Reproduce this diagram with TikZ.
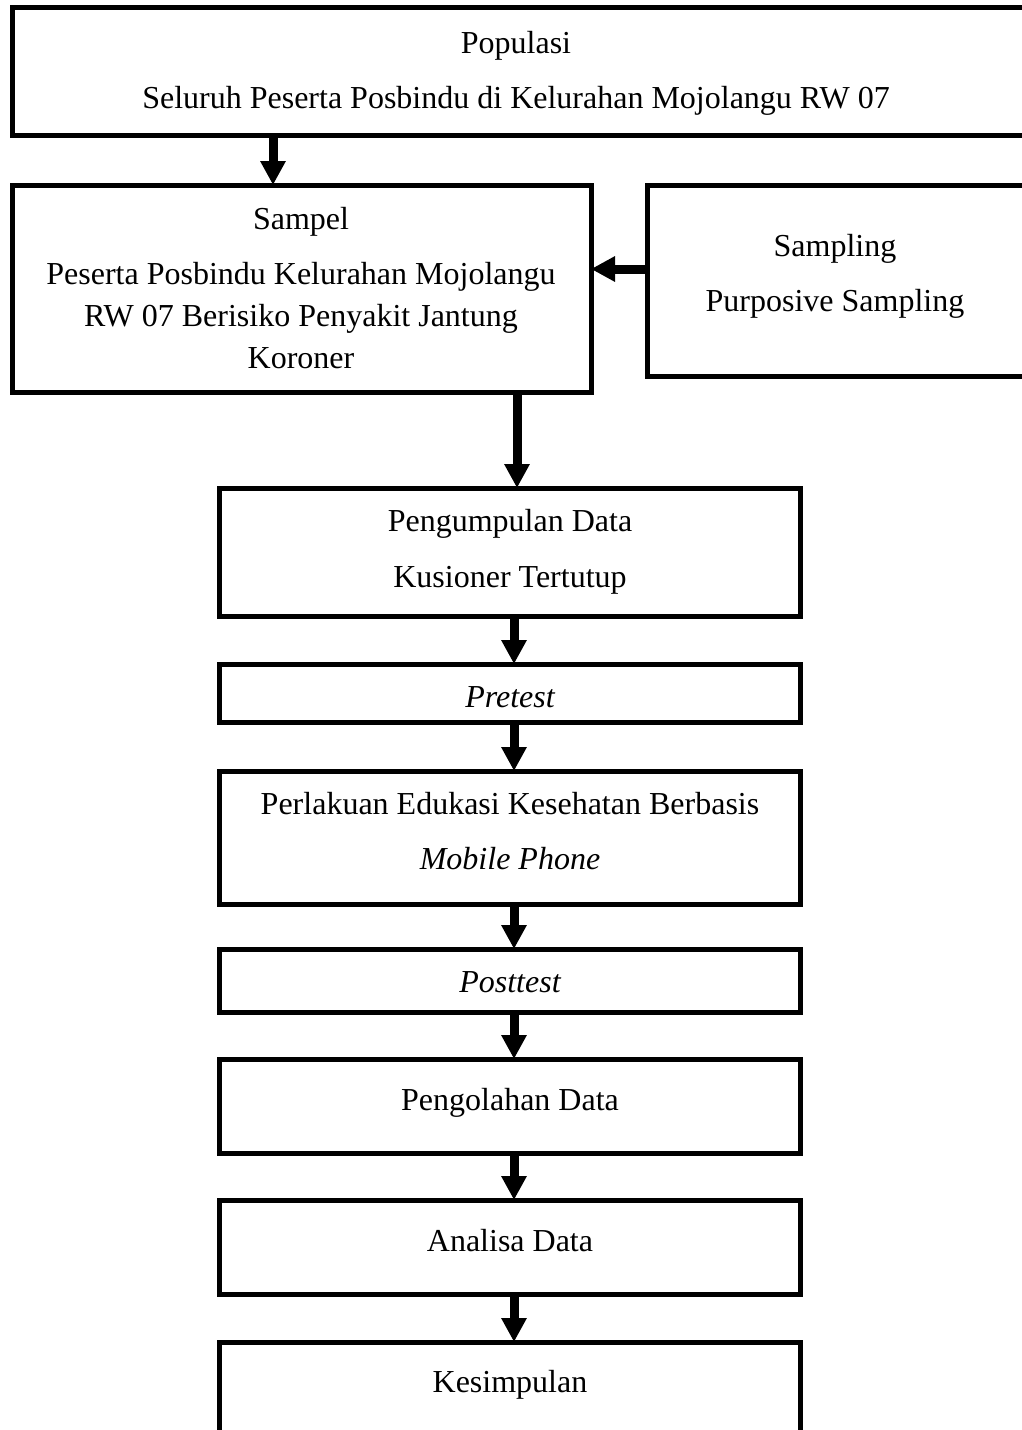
\documentclass[tikz,border=0pt]{standalone}
\usepackage{fontspec}
\setmainfont{Liberation Serif}
\usetikzlibrary{arrows.meta}
\begin{document}
\begin{tikzpicture}[x=1pt,y=-1pt,
  box/.style={draw, line width=5pt, inner sep=0pt, outer sep=0pt},
  txt/.style={font=\fontsize{32}{40}\selectfont, anchor=base, inner sep=0pt},
  arr/.style={line width=9pt, -{Triangle[width=24pt,length=24pt]}}]
\useasboundingbox (0,0) rectangle (1021,1430);
% boxes
\node[box, minimum width=1014pt, minimum height=127.5pt] (pop) at (519,71.25) {};
\node[box, minimum width=579pt, minimum height=207pt] (sampel) at (301.5,288.5) {};
\node[box, minimum width=379pt, minimum height=191pt] (sampling) at (836.5,280.5) {};
\node[box, minimum width=581pt, minimum height=128pt] (peng) at (509.5,552) {};
\node[box, minimum width=581pt, minimum height=58pt] (pre) at (509.5,693) {};
\node[box, minimum width=581pt, minimum height=133pt] (perl) at (509.5,837.5) {};
\node[box, minimum width=581pt, minimum height=63pt] (post) at (509.5,980.5) {};
\node[box, minimum width=581pt, minimum height=94pt] (olah) at (509.5,1106) {};
\node[box, minimum width=581pt, minimum height=94pt] (anal) at (509.5,1247) {};
\node[box, minimum width=581pt, minimum height=98pt] (kes) at (509.5,1391) {};
% texts
\node[txt] (t1) at (516,53) {Populasi};
\node[txt] (t2) at (516,108) {Seluruh Peserta Posbindu di Kelurahan Mojolangu RW 07};
\node[txt] (t3) at (301,229) {Sampel};
\node[txt] (t4) at (301,284) {Peserta Posbindu Kelurahan Mojolangu};
\node[txt] (t5) at (301,326) {RW 07 Berisiko Penyakit Jantung};
\node[txt] (t6) at (301,368) {Koroner};
\node[txt] (t7) at (835,256) {Sampling};
\node[txt] (t8) at (835,311) {Purposive Sampling};
\node[txt] (t9) at (510,531) {Pengumpulan Data};
\node[txt] (t10) at (510,587) {Kusioner Tertutup};
\node[txt] (t11) at (510,707) {\itshape Pretest};
\node[txt] (t12) at (510,814) {Perlakuan Edukasi Kesehatan Berbasis};
\node[txt] (t13) at (510,869) {\itshape Mobile Phone};
\node[txt] (t14) at (510,992) {\itshape Posttest};
\node[txt] (t15) at (510,1110) {Pengolahan Data};
\node[txt] (t16) at (510,1251) {Analisa Data};
\node[txt] (t17) at (510,1392) {Kesimpulan};
% connectors
\coordinate (xa) at (273,0);
\coordinate (xb) at (517,0);
\coordinate (xc) at (514,0);
\coordinate (ya) at (0,269);
\draw[arr] (pop.south -| xa) -- (sampel.north -| xa);
\draw[arr] (sampling.west |- ya) -- (sampel.east |- ya);
\draw[arr] (sampel.south -| xb) -- (peng.north -| xb);
\draw[arr] (peng.south -| xc) -- (pre.north -| xc);
\draw[arr] (pre.south -| xc) -- (perl.north -| xc);
\draw[arr] (perl.south -| xc) -- (post.north -| xc);
\draw[arr] (post.south -| xc) -- (olah.north -| xc);
\draw[arr] (olah.south -| xc) -- (anal.north -| xc);
\draw[arr] (anal.south -| xc) -- (kes.north -| xc);
\end{tikzpicture}
\end{document}
